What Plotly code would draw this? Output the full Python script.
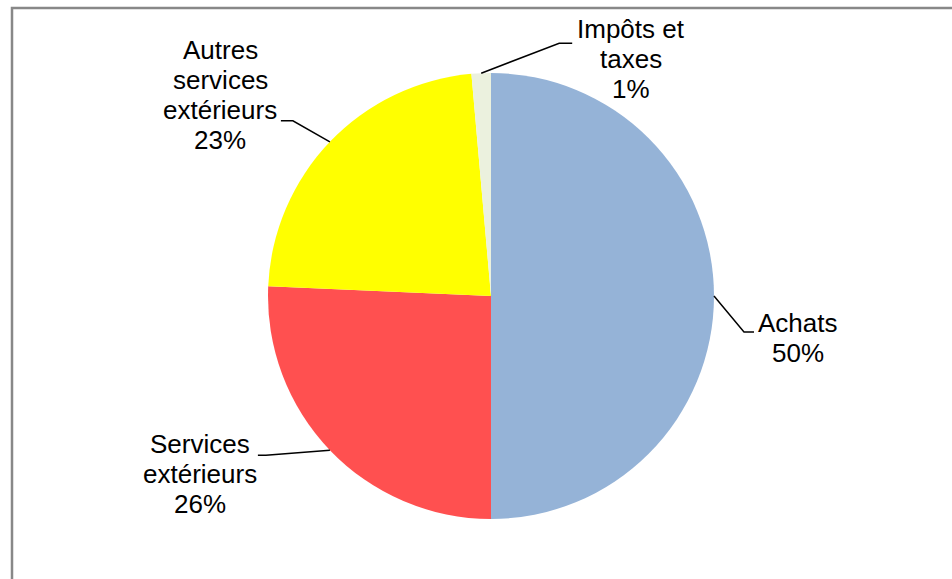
import math
import plotly.graph_objects as go

# ---- data ----
categories = ["Achats", "Services extérieurs", "Autres services extérieurs", "Impôts et taxes"]
values = [50.0, 25.7, 22.9, 1.4]
colors = ["#95B3D7", "#FF5050", "#FFFF00", "#EBF1DE"]
label_lines = [
    ["Achats"],
    ["Services", "extérieurs"],
    ["Autres", "services", "extérieurs"],
    ["Impôts et", "taxes"],
]

W, H = 952, 579
CX, CY, R = 491, 296, 223

def px(x):
    return x / W

def py(y):
    return 1 - y / H

fig = go.Figure(go.Pie(
    labels=categories, values=values, sort=False, direction="clockwise", rotation=0,
    marker=dict(colors=colors, line=dict(width=0)), textinfo="none", hoverinfo="label+percent",
    domain=dict(x=[px(CX - R), px(CX + R)], y=[py(CY + R), py(CY - R)]),
    showlegend=False,
))

# label layout (pixel positions of text line centres and leader offsets)
label_x = [798, 200, 220, 631]
label_y0 = [323, 444, 50, 29]
line_gap = 30
leader_offsets = [
    [(30, 36), (40, 36)],
    [(-64, 5), (-72, 5)],
    [(-37, -21), (-49, -21)],
    [(78, -30), (91, -30)],
]

total = sum(values)
annotations = []
shapes = []
cum = 0.0
for i, v in enumerate(values):
    mid = (cum + v / 2) / total * 2 * math.pi
    cum += v
    ex = CX + R * math.sin(mid)
    ey = CY - R * math.cos(mid)
    pts = [(ex, ey)] + [(ex + dx, ey + dy) for dx, dy in leader_offsets[i]]
    path = "M " + " L ".join(f"{px(a):.5f},{py(b):.5f}" for a, b in pts)
    shapes.append(dict(type="path", path=path, xref="paper", yref="paper",
                       line=dict(color="black", width=1.5)))
    pct = round(v / total * 100)
    lines = label_lines[i] + [f"{pct}%"]
    for k, t in enumerate(lines):
        annotations.append(dict(
            text=t, x=px(label_x[i]), y=py(label_y0[i] + k * line_gap),
            xref="paper", yref="paper", xanchor="center", yanchor="middle",
            showarrow=False, font=dict(family="Liberation Sans, Arial", size=26, color="black"),
        ))

# chart frame
shapes.append(dict(type="rect", xref="paper", yref="paper",
                   x0=px(12), y0=py(8), x1=1.02, y1=-0.02,
                   line=dict(color="#888888", width=2.5), fillcolor="rgba(0,0,0,0)"))

fig.update_layout(
    width=W, height=H, margin=dict(l=0, r=0, t=0, b=0),
    paper_bgcolor="white", plot_bgcolor="white",
    annotations=annotations, shapes=shapes,
)

fig.write_html("out.html", config={"displayModeBar": False},
               post_script="document.body.style.margin='0px';document.body.style.overflow='hidden';")
